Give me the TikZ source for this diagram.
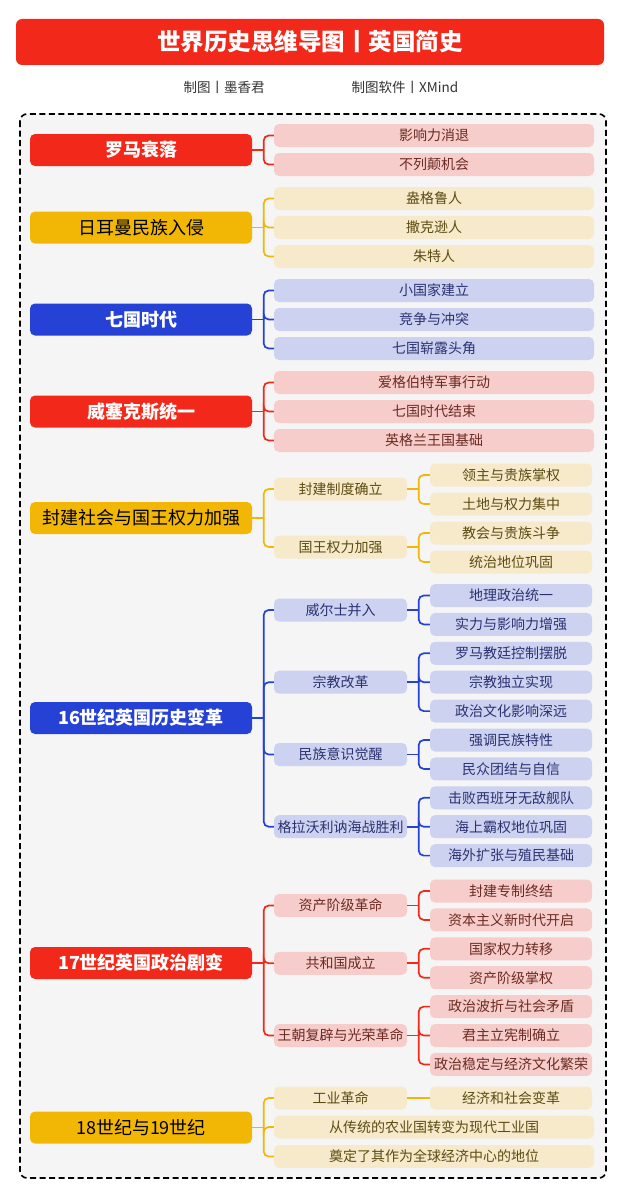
\documentclass[tikz,border=0pt]{standalone}
\usepackage{fontspec}
\setmainfont{Noto Sans CJK SC}
\definecolor{bR}{HTML}{F2291A}
\definecolor{bY}{HTML}{F2B705}
\definecolor{bB}{HTML}{2541D6}
\definecolor{lR}{HTML}{F6CDCA}
\definecolor{lY}{HTML}{F6EACB}
\definecolor{lB}{HTML}{CDD2F0}
\definecolor{tR}{HTML}{6B2A22}
\definecolor{tY}{HTML}{5C4B12}
\definecolor{tB}{HTML}{2A3270}
\definecolor{bg}{HTML}{F5F5F5}
\definecolor{sub}{HTML}{333333}
\tikzset{
  box/.style={rounded corners=5pt, inner sep=0pt, anchor=center},
  mainbox/.style={box, minimum width=222pt, minimum height=32pt, font=\fontsize{18}{18}\selectfont},
  mR/.style={mainbox, fill=bR, text=white, font=\fontsize{18}{18}\selectfont\bfseries},
  mY/.style={mainbox, fill=bY, text=black},
  mB/.style={mainbox, fill=bB, text=white, font=\fontsize{18}{18}\selectfont\bfseries},
  kid/.style={box, minimum height=23pt, font=\fontsize{14}{14}\selectfont},
  cR/.style={kid, fill=lR, text=tR},
  cY/.style={kid, fill=lY, text=tY},
  cB/.style={kid, fill=lB, text=tB},
  wide/.style={minimum width=320pt},
  lone/.style={minimum width=133pt},
  ltwo/.style={minimum width=162pt},
  link/.style={line width=1.7pt},
}
\newcommand\mybranch[3]{%
  \coordinate (#2-j) at ([xshift=11.5pt]#2.east);
  \draw[link,#1] (#2.east) -- (#2-j);
  \foreach \c in {#3} {\draw[link,#1,rounded corners=5pt] (#2-j) |- (\c.west);}
}
\begin{document}
\begin{tikzpicture}[x=1pt,y=-1pt]
\fill[white] (0,0) rectangle (621,1199);
\useasboundingbox (0,0) rectangle (621,1199);
% title
\node[box, rounded corners=6pt, fill=bR, minimum width=588pt, minimum height=46pt, text=white, font=\fontsize{23.5}{23.5}\selectfont\bfseries] (title) at (310,42) {世界历史思维导图丨英国简史};
\node[text=sub, font=\fontsize{13.5}{13.5}\selectfont, inner sep=0pt] (author) at (224,87) {制图丨墨香君};
\node[text=sub, font=\fontsize{13.5}{13.5}\selectfont, inner sep=0pt] (soft) at (405,87) {制图软件丨XMind};
% frame
\draw[fill=bg, line width=1.6pt, dash pattern=on 6pt off 3.5pt, rounded corners=7pt] (20,114) rectangle (606,1178);

% Branch 1
\node[mR] (m1) at (141,150) {罗马衰落};
\node[cR,wide] (a1) at (434,135.5) {影响力消退};
\node[cR,wide] (a2) at (434,164.5) {不列颠机会};
\mybranch{bR}{m1}{a1,a2}

% Branch 2
\node[mY] (m2) at (141,227.5) {日耳曼民族入侵};
\node[cY,wide] (b1) at (434,198.5) {盎格鲁人};
\node[cY,wide] (b2) at (434,227.5) {撒克逊人};
\node[cY,wide] (b3) at (434,256.5) {朱特人};
\mybranch{bY}{m2}{b1,b2,b3}

% Branch 3
\node[mB] (m3) at (141,319.5) {七国时代};
\node[cB,wide] (c1) at (434,290.5) {小国家建立};
\node[cB,wide] (c2) at (434,319.5) {竞争与冲突};
\node[cB,wide] (c3) at (434,348.5) {七国崭露头角};
\mybranch{bB}{m3}{c1,c2,c3}

% Branch 4
\node[mR] (m4) at (141,411.5) {威塞克斯统一};
\node[cR,wide] (d1) at (434,382.5) {爱格伯特军事行动};
\node[cR,wide] (d2) at (434,411.5) {七国时代结束};
\node[cR,wide] (d3) at (434,440.5) {英格兰王国基础};
\mybranch{bR}{m4}{d1,d2,d3}

% Branch 5
\node[mY] (m5) at (141,518) {封建社会与国王权力加强};
\node[cY,lone] (e1) at (340.5,489) {封建制度确立};
\node[cY,lone] (e2) at (340.5,547) {国王权力加强};
\node[cY,ltwo] (e11) at (511,475) {领主与贵族掌权};
\node[cY,ltwo] (e12) at (511,504) {土地与权力集中};
\node[cY,ltwo] (e21) at (511,533) {教会与贵族斗争};
\node[cY,ltwo] (e22) at (511,562) {统治地位巩固};
\mybranch{bY}{m5}{e1,e2}
\mybranch{bY}{e1}{e11,e12}
\mybranch{bY}{e2}{e21,e22}

% Branch 6
\node[mB] (m6) at (141,718) {16世纪英国历史变革};
\node[cB,lone] (f1) at (340.5,610) {威尔士并入};
\node[cB,lone] (f2) at (340.5,682.2) {宗教改革};
\node[cB,lone] (f3) at (340.5,754.5) {民族意识觉醒};
\node[cB,lone] (f4) at (340.5,826.7) {格拉沃利讷海战胜利};
\node[cB,ltwo] (f11) at (511,595.5) {地理政治统一};
\node[cB,ltwo] (f12) at (511,624.4) {实力与影响力增强};
\node[cB,ltwo] (f21) at (511,653.3) {罗马教廷控制摆脱};
\node[cB,ltwo] (f22) at (511,682.2) {宗教独立实现};
\node[cB,ltwo] (f23) at (511,711.1) {政治文化影响深远};
\node[cB,ltwo] (f31) at (511,740) {强调民族特性};
\node[cB,ltwo] (f32) at (511,768.9) {民众团结与自信};
\node[cB,ltwo] (f41) at (511,797.8) {击败西班牙无敌舰队};
\node[cB,ltwo] (f42) at (511,826.7) {海上霸权地位巩固};
\node[cB,ltwo] (f43) at (511,855.6) {海外扩张与殖民基础};
\mybranch{bB}{m6}{f1,f2,f3,f4}
\mybranch{bB}{f1}{f11,f12}
\mybranch{bB}{f2}{f21,f22,f23}
\mybranch{bB}{f3}{f31,f32}
\mybranch{bB}{f4}{f41,f42,f43}

% Branch 7
\node[mR] (m7) at (141,963) {17世纪英国政治剧变};
\node[cR,lone] (g1) at (340.5,905.5) {资产阶级革命};
\node[cR,lone] (g2) at (340.5,963.3) {共和国成立};
\node[cR,lone] (g3) at (340.5,1035.5) {王朝复辟与光荣革命};
\node[cR,ltwo] (g11) at (511,891) {封建专制终结};
\node[cR,ltwo] (g12) at (511,919.9) {资本主义新时代开启};
\node[cR,ltwo] (g21) at (511,948.8) {国家权力转移};
\node[cR,ltwo] (g22) at (511,977.7) {资产阶级掌权};
\node[cR,ltwo] (g31) at (511,1006.6) {政治波折与社会矛盾};
\node[cR,ltwo] (g32) at (511,1035.5) {君主立宪制确立};
\node[cR,ltwo] (g33) at (511,1064.4) {政治稳定与经济文化繁荣};
\mybranch{bR}{m7}{g1,g2,g3}
\mybranch{bR}{g1}{g11,g12}
\mybranch{bR}{g2}{g21,g22}
\mybranch{bR}{g3}{g31,g32,g33}

% Branch 8
\node[mY] (m8) at (141,1127.5) {18世纪与19世纪};
\node[cY,lone] (h1) at (340.5,1098) {工业革命};
\node[cY,ltwo] (h11) at (511,1098) {经济和社会变革};
\node[cY,wide] (h2) at (434,1127) {从传统的农业国转变为现代工业国};
\node[cY,wide] (h3) at (434,1156.5) {奠定了其作为全球经济中心的地位};
\mybranch{bY}{m8}{h1,h2,h3}
\draw[link,bY] (h1.east) -- (h11.west);
\end{tikzpicture}
\end{document}
